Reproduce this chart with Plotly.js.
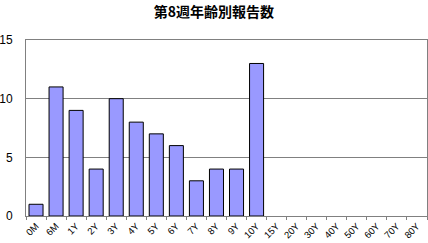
<!DOCTYPE html>
<html><head><meta charset="utf-8">
<script src="https://cdn.plot.ly/plotly-3.0.1.min.js"></script>
<style>html,body{margin:0;padding:0;background:#fff}#c{width:428px;height:243px}</style>
</head><body><div id="c"></div>
<script>
const categories = ["0M","6M","1Y","2Y","3Y","4Y","5Y","6Y","7Y","8Y","9Y","10Y","15Y","20Y","30Y","40Y","50Y","60Y","70Y","80Y"];
const reports = [1,11,9,4,10,8,7,6,3,4,4,13,0,0,0,0,0,0,0,0];
const yTicks = [0,5,10,15];
const chartTitle = "第8週年齢別報告数";

Plotly.newPlot("c", [{
  type: "bar", x: categories, y: reports,
  marker: {color: "#9999ff", line: {color: "#000", width: reports.map(v => v > 0 ? 1 : 0)}},
  width: 0.7, hoverinfo: "none"
}], {
  width: 428, height: 243,
  margin: {l: 26, r: 1, t: 40, b: 27},
  paper_bgcolor: "#fff", plot_bgcolor: "#fff",
  showlegend: false,
  title: {text: chartTitle, x: 0.5, xanchor: "center", y: 0.95, yanchor: "middle",
          font: {family: "Noto Sans CJK JP", size: 14, color: "#000", weight: "bold"}},
  xaxis: {type: "category", tickangle: -45, tickfont: {family: "Liberation Sans", size: 9.5, color: "#000"},
          showline: true, linecolor: "#808080", linewidth: 1, mirror: true,
          ticks: "outside", ticklen: 3, tickcolor: "#808080", tickson: "boundaries",
          showgrid: false, range: [-0.5, 19.5], fixedrange: true},
  yaxis: {range: [0, 15], tickvals: yTicks, ticks: "", showline: true, linecolor: "#808080",
          mirror: true, gridcolor: "#808080", gridwidth: 1, zeroline: false,
          tickfont: {family: "Liberation Sans", size: 12, color: "#000"}, ticklabelstandoff: 10}
}, {staticPlot: true});
</script></body></html>
